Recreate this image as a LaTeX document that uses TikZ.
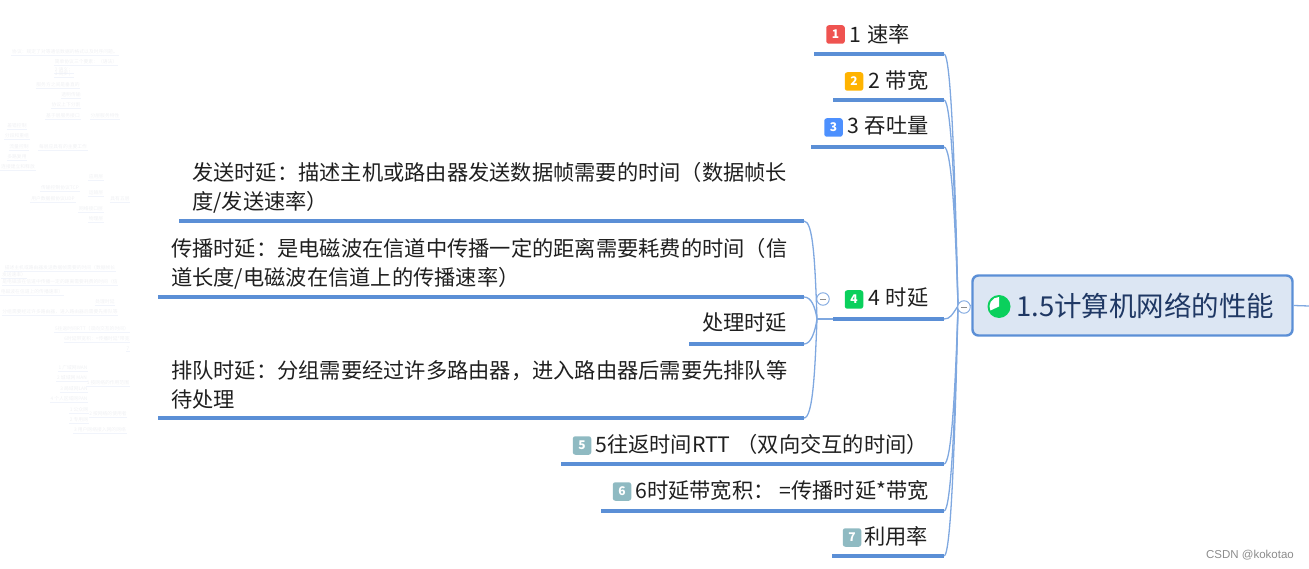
\documentclass[tikz,border=0pt]{standalone}
\usepackage{fontspec}
\setmainfont{Noto Sans CJK SC}
\newfontfamily\latinfont{Liberation Sans}
\definecolor{linkblue}{HTML}{5B8FD6}
\definecolor{thinblue}{HTML}{7FA8E0}
\definecolor{rootfill}{HTML}{DCE6F3}
\definecolor{rootink}{HTML}{1F3864}
\definecolor{pagegreen}{HTML}{0AD05C}
\definecolor{tagred}{HTML}{EF5350}
\definecolor{tagorange}{HTML}{FFB300}
\definecolor{tagblue}{HTML}{4D90FE}
\definecolor{greyteal}{HTML}{8FBAC2}
\definecolor{faintink}{HTML}{EFF0F3}
\definecolor{faintline}{HTML}{F1F4FB}
\tikzset{
  topic/.style={anchor=west, inner sep=0pt, text=black!88, font=\fontsize{21.25}{29}\selectfont, align=left},
  badge/.style={fill=#1, rounded corners=2.5pt, minimum size=18.5pt, inner sep=0pt, text=white, font=\fontsize{12}{12}\selectfont\bfseries},
  bar/.style={linkblue, line width=3.5pt},
  twig/.style={thinblue, line width=1.3pt},
  fold/.style={circle, draw=thinblue, fill=white, line width=0.9pt, minimum size=12.5pt, inner sep=0pt, text=black!45},
  faint/.style={inner sep=0.6pt, text=faintink, font=\fontsize{4.8}{4.8}\selectfont}
}
\begin{document}
\begin{tikzpicture}[x=1pt, y=-1pt]
  \useasboundingbox (0,0) rectangle (1309,569);

  % root
  \node[draw=linkblue, fill=rootfill, line width=2.4pt, rounded corners=6pt, minimum width=320pt, minimum height=60pt] (root) at (1132.5,305.5) {};
  \node[anchor=west, inner sep=0pt, text=rootink, font=\fontsize{27.5}{27.5}\selectfont] (roottext) at (1016,306) {1.5计算机网络的性能};
  \coordinate (pie) at (999,306.5);
  \fill[pagegreen] (pie) circle (11.5);
  \fill[white] (pie) -- ++(-90:9.5) arc[start angle=-90, end angle=-205, radius=9.5] -- cycle;
  \coordinate (rootout) at (1309,306);
  \draw[twig] (root.east) -- (rootout);

  % first level
  \coordinate (hub) at (958,306);
  \coordinate (a1) at (814,54);   \coordinate (b1) at (944,54);
  \coordinate (a2) at (833,100);  \coordinate (b2) at (944,100);
  \coordinate (a3) at (811,147);  \coordinate (b3) at (944,147);
  \coordinate (a4) at (833,319);  \coordinate (b4) at (944,319);
  \coordinate (a5) at (561,464);  \coordinate (b5) at (944,464);
  \coordinate (a6) at (601,511);  \coordinate (b6) at (944,511);
  \coordinate (a7) at (832,556);  \coordinate (b7) at (944,556);

  \draw[twig] (hub) .. controls (955,170) and (951,54) .. (b1);
  \draw[twig] (hub) .. controls (955,190) and (951,100) .. (b2);
  \draw[twig] (hub) .. controls (955,210) and (951,147) .. (b3);
  \draw[twig] (hub) .. controls (952,315) and (950,319) .. (b4);
  \draw[twig] (hub) .. controls (955,400) and (951,464) .. (b5);
  \draw[twig] (hub) .. controls (955,420) and (951,511) .. (b6);
  \draw[twig] (hub) .. controls (955,440) and (951,556) .. (b7);
  \draw[twig] (hub) -- (root.west);
  \draw[bar] (a1) -- (b1);
  \draw[bar] (a2) -- (b2);
  \draw[bar] (a3) -- (b3);
  \draw[bar] (a4) -- (b4);
  \draw[bar] (a5) -- (b5);
  \draw[bar] (a6) -- (b6);
  \draw[bar] (a7) -- (b7);
  \node[fold] (fold1) at (964,307) {\rule{6.5pt}{0.9pt}};

  \node[badge=tagred] (tag1) at (835.5,34.5) {1};
  \node[topic] (rate) at (849,34) {1\hspace{6.5pt}速率};
  \node[badge=tagorange] (tag2) at (854,81.5) {2};
  \node[topic] (band) at (868,80) {2\hspace{6pt}带宽};
  \node[badge=tagblue] (tag3) at (833.5,127.5) {3};
  \node[topic] (thru) at (847,126) {3\hspace{6pt}吞吐量};
  \node[badge=pagegreen] (tag4) at (854,299.5) {4};
  \node[topic] (delay) at (868,298) {4\hspace{6pt}时延};
  \node[badge=greyteal] (tag5) at (582,445.5) {5};
  \node[topic] (rtt) at (595,444) {5往返时间RTT\hspace{6pt}（双向交互的时间）};
  \node[badge=greyteal] (tag6) at (622,491.5) {6};
  \node[topic] (bdp) at (635,490) {6时延带宽积：\hspace{5pt}=传播时延*带宽};
  \node[badge=greyteal] (tag7) at (852,537.5) {7};
  \node[topic] (util) at (864,536) {利用率};

  % second level
  \coordinate (hubb) at (817,319);
  \coordinate (c1) at (179,221);  \coordinate (d1) at (804,221);
  \coordinate (c2) at (158,297);  \coordinate (d2) at (804,297);
  \coordinate (c3) at (689,344);  \coordinate (d3) at (804,344);
  \coordinate (c4) at (158,418);  \coordinate (d4) at (804,418);

  \draw[twig] (hubb) .. controls (815,260) and (813,221) .. (d1);
  \draw[twig] (hubb) .. controls (815,306) and (811,297) .. (d2);
  \draw[twig] (hubb) .. controls (815,332) and (811,344) .. (d3);
  \draw[twig] (hubb) .. controls (815,370) and (813,418) .. (d4);
  \draw[twig] (hubb) -- (a4);
  \draw[bar] (c1) -- (d1);
  \draw[bar] (c2) -- (d2);
  \draw[bar] (c3) -- (d3);
  \draw[bar] (c4) -- (d4);
  \node[fold] (fold2) at (823,299) {\rule{6.5pt}{0.9pt}};

  \node[topic] (send) at (192,188) {发送时延：描述主机或路由器发送数据帧需要的时间（数据帧长\\度/发送速率）};
  \node[topic] (prop) at (171,264) {传播时延：是电磁波在信道中传播一定的距离需要耗费的时间（信\\道长度/电磁波在信道上的传播速率）};
  \node[topic] (proc) at (702,323) {处理时延};
  \node[topic] (queue) at (171,385) {排队时延：分组需要经过许多路由器，进入路由器后需要先排队等\\待处理};

  % faded part on the left
  \foreach \px/\py/\label [count=\i] in {
    65/52/协议：规定了对等通信数据的格式以及时序问题。, 86/62/简单协议三个要素：（语法）, 64/70/2 语义；, 64/74/3 同步；,
    58/85/服务方之间是垂直的, 71/95/透明传输, 66/105/协议上下分割, 63/116/基于层服务接口, 105/116/分层服务特性,
    17/126/差错控制, 17/136/分段和重组, 19/147/流量控制, 17/157/多路复用, 18/167/连接建立和释放, 63/147/每层应具有的主要工作,
    96/177/应用层, 60/188/传输控制协议TCP, 96/193/运输层, 53/199/用户数据报协议UDP, 91/209/网络接口层, 96/219/物理层, 120/199/具有五层,
    60/268/描述主机或路由器发送数据帧需要的时间（数据帧长, 14/275/发送速率）, 60/282/是电磁波在信道中传播一定的距离需要耗费的时间（信, 32/292/电磁波在信道上的传播速率）,
    105/302/处理时延, 60/312/分组需要经过许多路由器，进入路由器后需要先排队等,
    92/329/5往返时间RTT（双向交互的时间）, 97/339/6时延带宽积：=传播时延*带宽, 128/349/7,
    73/368/1 广域网WAN, 72/378/2 城域网 MAN, 74/389/3 局域网LAN, 69/399/4 个人区域网PAN, 108/383/1 按网络的作用范围,
    79/410/1 公众网, 79/420/2 专用网, 108/414/2 按网络的使用者, 100/430/3 用户网络接入网的网络}
  {
    \node[faint] (old\i) at (\px,\py) {\label};
    \draw[faintline, line width=0.8pt] (old\i.south west) -- (old\i.south east);
  }

  \node[anchor=east, inner sep=0pt, text=black!45, font=\fontsize{11.5}{11.5}\selectfont\latinfont] (mark) at (1294,555) {CSDN @kokotao};
\end{tikzpicture}
\end{document}
